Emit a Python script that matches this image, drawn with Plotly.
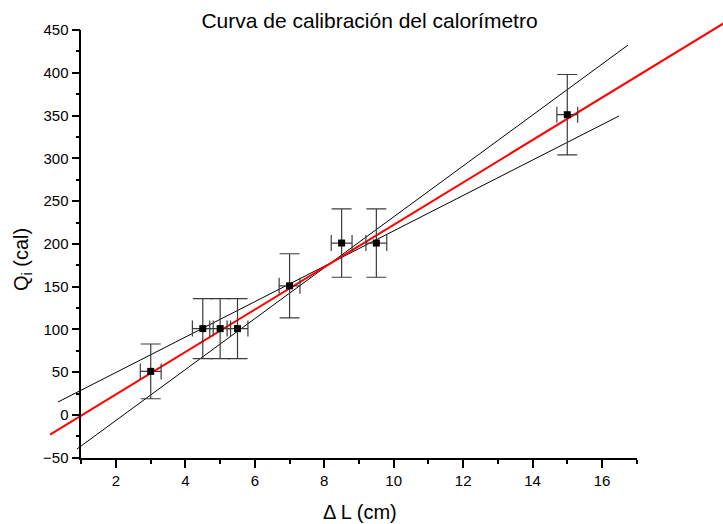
import plotly.graph_objects as go

# Data
dL = [3.0, 4.5, 5.0, 5.5, 7.0, 8.5, 9.5, 15.0]
Q = [51, 101, 101, 101, 151, 201, 201, 351]
err_dL = [0.3, 0.3, 0.3, 0.3, 0.3, 0.3, 0.3, 0.3]
err_Q = [32, 35, 35, 35, 37.5, 40, 40, 47]

# Best-fit line (red) and max/min slope lines (black), endpoints
fit_x = [0.10, 19.6]
fit_y = [-22.9, 460.1]
max_x = [0.876, 16.75]
max_y = [-39.7, 432.4]
min_x = [0.329, 16.49]
min_y = [15.2, 349.5]

W, H = 723, 524
# visible axis frame in pixels
x0p, x1p = 81.3, 636.7
ytop, ybot = 30.0, 457.8
xr = [1, 17]
yr = [-50, 450]
sx = (x1p - x0p) / (xr[1] - xr[0])
sy = (ybot - ytop) / (yr[1] - yr[0])
full_x = [xr[0] - x0p / sx, xr[0] + (W - x0p) / sx]
full_y = [yr[0] - (H - ybot) / sy, yr[1] + ytop / sy]

fig = go.Figure()
fig.add_trace(go.Scatter(x=min_x, y=min_y, mode="lines",
                         line=dict(color="black", width=1), showlegend=False))
fig.add_trace(go.Scatter(x=max_x, y=max_y, mode="lines",
                         line=dict(color="black", width=1), showlegend=False))
fig.add_trace(go.Scatter(x=fit_x, y=fit_y, mode="lines",
                         line=dict(color="#ff0000", width=2), showlegend=False))
fig.add_trace(go.Scatter(
    x=dL, y=Q, mode="markers",
    marker=dict(symbol="square", size=7, color="black"),
    error_y=dict(type="data", array=err_Q, color="#3c3c3c", thickness=1.2, width=10),
    error_x=dict(type="data", array=err_dL, color="#3c3c3c", thickness=1.2, width=8),
    showlegend=False))
# dummy trace for visible axes
fig.add_trace(go.Scatter(x=[None], y=[None], xaxis="x2", yaxis="y2", showlegend=False))

axis_common = dict(showgrid=False, zeroline=False, showline=True, linecolor="black",
                   linewidth=1.5, ticks="outside", ticklen=8, tickwidth=1.5,
                   tickcolor="black", tickfont=dict(size=15), automargin=False,
                   fixedrange=True)

fig.update_layout(
    width=W, height=H,
    margin=dict(l=0, r=0, t=0, b=0),
    paper_bgcolor="white", plot_bgcolor="rgba(0,0,0,0)",
    font=dict(family="Liberation Sans, Arial", color="black"),
    title=dict(text="Curva de calibración del calorímetro", x=369.5 / W, xanchor="center",
               y=1 - 21 / H, yanchor="middle", font=dict(size=21), automargin=False),
    xaxis=dict(range=full_x, domain=[0, 1], visible=False, fixedrange=True, automargin=False),
    yaxis=dict(range=full_y, domain=[0, 1], visible=False, fixedrange=True, automargin=False),
    xaxis2=dict(range=xr, domain=[x0p / W, x1p / W], anchor="y2", tick0=2, dtick=2,
                minor=dict(ticks="outside", ticklen=4, dtick=1, tick0=1,
                           tickcolor="black", tickwidth=1.5),
                **axis_common),
    yaxis2=dict(range=yr, domain=[1 - ybot / H, 1 - ytop / H], anchor="x2", tick0=-50, dtick=50,
                minor=dict(ticks="outside", ticklen=4, dtick=25,
                           tickcolor="black", tickwidth=1.5),
                **axis_common),
    annotations=[
        dict(text="Δ L (cm)", xref="paper", yref="paper", x=360 / W, y=1 - 512 / H,
             xanchor="center", yanchor="middle", showarrow=False, font=dict(size=20)),
        dict(text="Q<sub>i</sub> (cal)", xref="paper", yref="paper", x=22 / W, y=1 - 260 / H,
             xanchor="center", yanchor="middle", showarrow=False, textangle=-90,
             font=dict(size=20)),
    ],
)

fig.write_html("out.html", config={"displayModeBar": False},
               post_script="document.body.style.margin='0';")
